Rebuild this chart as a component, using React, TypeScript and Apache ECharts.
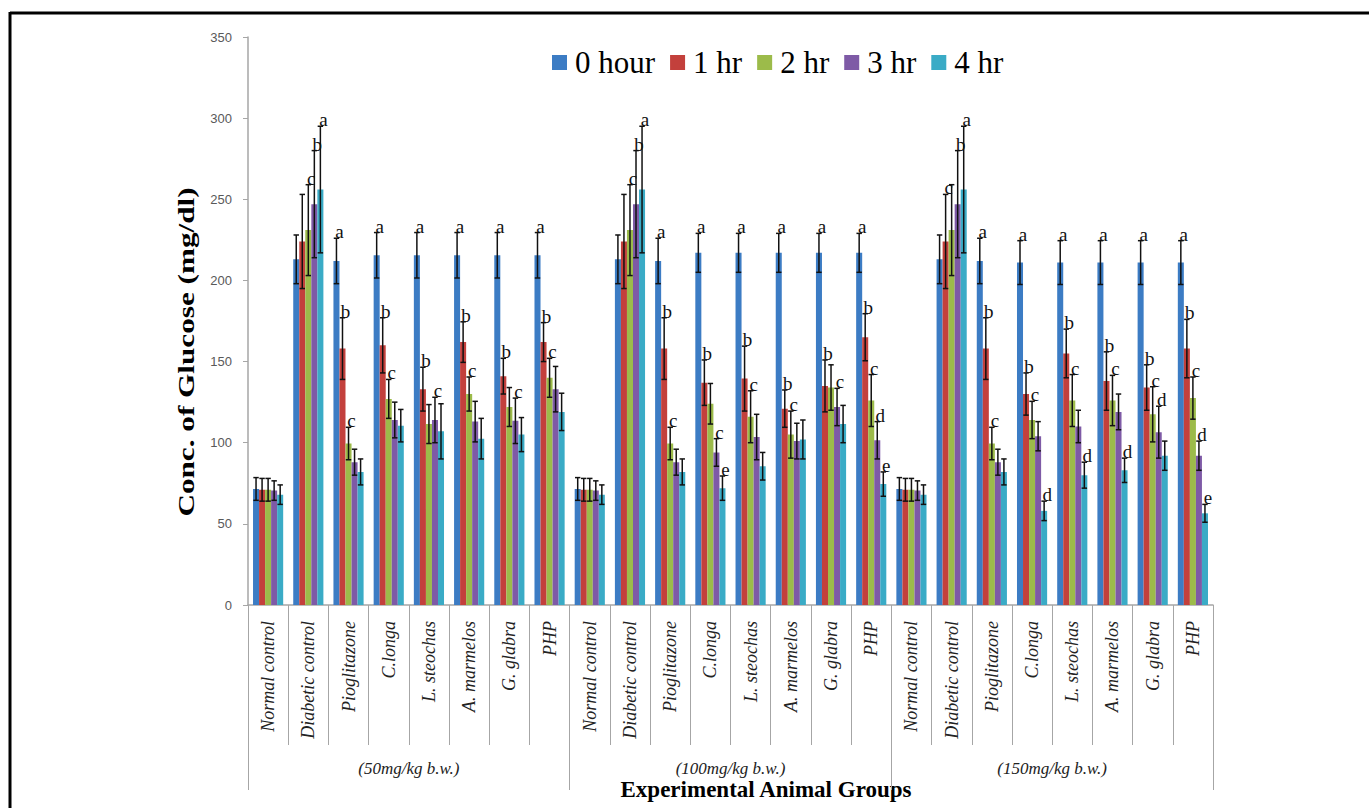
import React, { useEffect, useRef } from 'react';
import * as echarts from 'echarts';

const groupNames = ['Normal control', 'Diabetic control', 'Pioglitazone', 'C.longa', 'L. steochas', 'A. marmelos', 'G. glabra', 'PHP'];
const categories = [...groupNames, ...groupNames, ...groupNames];
const doseLabels = ['(50mg/kg b.w.)', '(100mg/kg b.w.)', '(150mg/kg b.w.)'];
const seriesNames = ['0 hour', '1 hr', '2 hr', '3 hr', '4 hr'];
const colors = ['#3c7cc4', '#c3403c', '#9cbb4a', '#7e5aa6', '#3aabc6'];
const yTicks = [0, 350, 50];

const hour0 = [71.5, 213, 212, 215.5, 215.5, 215.5, 215.5, 215.5, 71.5, 213, 212, 217, 217, 217, 217, 217, 71.5, 213, 212, 211, 211, 211, 211, 211];
const hour1 = [71, 224, 158, 160, 133, 162, 141, 162, 71, 224, 158, 137, 139.5, 121, 135, 165, 71, 224, 158, 130, 155, 138, 134, 158];
const hour2 = [71, 231, 99.5, 127, 111.5, 130, 122, 140, 71, 231, 99.5, 124, 116, 105, 134, 126, 71, 231, 99.5, 114, 126, 126, 117.5, 127.5];
const hour3 = [70.5, 247, 88, 114, 114, 113, 113.5, 133, 70.5, 247, 88, 94, 103.5, 101, 122, 101.5, 70.5, 247, 88, 104, 110, 119, 106.5, 92];
const hour4 = [68, 256, 82, 110.5, 107, 102.5, 105, 119, 68, 256, 82, 72, 85.5, 102, 111.5, 74.5, 68, 256, 82, 58, 80, 83, 92, 56.5];

const err0 = [7, 15, 14, 14, 14, 14, 14, 14, 7, 15, 14, 12, 12, 12, 12, 12, 7, 15, 14, 13.5, 13.5, 13.5, 13.5, 13.5];
const err1 = [7, 29, 19, 17, 13.5, 12.5, 11, 12, 7, 29, 19, 14, 20, 11.5, 16, 14.5, 7, 29, 19, 13, 15, 18, 14, 18];
const err2 = [7, 28, 10, 12, 12, 10.5, 12, 12, 7, 28, 10, 12.5, 16, 14.5, 14, 16, 7, 28, 10, 11.5, 16, 15.5, 17, 13];
const err3 = [6, 33, 8, 11, 14, 12.5, 14, 14, 6, 33, 8, 8.5, 14, 11, 11.5, 11.5, 6, 33, 8, 9, 10, 11, 16, 9];
const err4 = [6, 39, 8, 10, 17, 12.5, 10.5, 11.5, 6, 39, 8, 7.5, 8.5, 12, 11.5, 7.5, 6, 39, 8, 6, 8, 7.5, 9, 5.5];

const letters0 = ['', '', 'a', 'a', 'a', 'a', 'a', 'a', '', '', 'a', 'a', 'a', 'a', 'a', 'a', '', '', 'a', 'a', 'a', 'a', 'a', 'a'];
const letters1 = ['', '', 'b', 'b', 'b', 'b', 'b', 'b', '', '', 'b', 'b', 'b', 'b', 'b', 'b', '', 'c', 'b', 'b', 'b', 'b', 'b', 'b'];
const letters2 = ['', 'c', 'c', 'c', '', 'c', '', 'c', '', 'c', 'c', '', 'c', 'c', '', 'c', '', '', 'c', 'c', 'c', 'c', 'c', 'c'];
const letters3 = ['', 'b', '', '', 'c', '', 'c', '', '', 'b', '', 'c', '', '', 'c', 'd', '', 'b', '', '', '', '', 'd', 'd'];
const letters4 = ['', 'a', '', '', '', '', '', '', '', 'a', '', 'e', '', '', '', 'e', '', 'a', '', 'd', 'd', 'd', '', 'e'];

const values = [hour0, hour1, hour2, hour3, hour4];
const errors = [err0, err1, err2, err3, err4];
const letters = [letters0, letters1, letters2, letters3, letters4];

export default function App() {
  const ref = useRef<HTMLDivElement>(null);
  useEffect(() => {
    if (!ref.current) return;
    const chart = echarts.init(ref.current, null, { renderer: 'svg' });

    const errItems: { cat: number; s: number; v: number; e: number; l: string }[] = [];
    values.forEach((arr, s) => {
      arr.forEach((v, cat) => {
        errItems.push({ cat, s, v, e: errors[s][cat], l: letters[s][cat] });
      });
    });

    const gray = '#a6a6a6';
    const option: any = {
      animation: false,
      backgroundColor: '#ffffff',
      grid: { left: 248, right: 156, top: 37, bottom: 203, containLabel: false },
      legend: {
        data: seriesNames,
        left: 547,
        top: 42,
        icon: 'rect',
        itemWidth: 15,
        itemHeight: 15,
        itemGap: 15,
        textStyle: { fontSize: 31, fontFamily: '"Liberation Serif", serif', color: '#000', padding: [0, 0, 0, 3] },
      },
      xAxis: [
        {
          type: 'category',
          data: categories,
          axisLine: { show: true, lineStyle: { color: gray, width: 1.5 } },
          axisTick: { show: true, interval: 0, length: 140, alignWithLabel: false, lineStyle: { color: gray, width: 1 } },
          axisLabel: {
            interval: 0,
            rotate: 90,
            margin: 16,
            fontStyle: 'italic',
            fontFamily: '"Liberation Serif", serif',
            fontSize: 18,
            color: '#222',
          },
          splitLine: { show: false },
        },
        {
          type: 'category',
          data: doseLabels,
          position: 'bottom',
          axisLine: { show: false },
          axisTick: { show: true, interval: 0, length: 185, alignWithLabel: false, lineStyle: { color: gray, width: 1 } },
          axisLabel: {
            interval: 0,
            margin: 155,
            fontStyle: 'italic',
            fontFamily: '"Liberation Serif", serif',
            fontSize: 17,
            color: '#222',
          },
          splitLine: { show: false },
        },
      ],
      yAxis: {
        type: 'value',
        min: yTicks[0],
        max: yTicks[1],
        interval: yTicks[2],
        axisLine: { show: true, lineStyle: { color: gray, width: 1.5 } },
        axisTick: { show: true, length: 5, lineStyle: { color: gray } },
        axisLabel: { margin: 16, fontSize: 13, fontFamily: '"Liberation Sans", sans-serif', color: '#595959' },
        splitLine: { show: false },
      },
      series: [
        ...seriesNames.map((name, s) => ({
          type: 'bar',
          name,
          data: values[s],
          barGap: '0%',
          barCategoryGap: '25%',
          itemStyle: { color: colors[s] },
          xAxisIndex: 0,
          yAxisIndex: 0,
        })),
        {
          type: 'custom',
          xAxisIndex: 0,
          yAxisIndex: 0,
          z: 5,
          data: errItems.map((it) => [it.cat, it.s, it.v, it.e]),
          encode: { x: 0, y: 2 },
          renderItem: (params: any, api: any) => {
            const it = errItems[params.dataIndex];
            const catW = api.size([1, 0])[0];
            const barW = (catW * 0.75) / 5;
            const cx = api.coord([it.cat, 0])[0] - catW * 0.375 + (it.s + 0.5) * barW;
            const yTop = api.coord([it.cat, it.v + it.e])[1];
            const yBot = api.coord([it.cat, it.v - it.e])[1];
            const cap = barW * 0.45;
            const st = { stroke: '#111', lineWidth: 1.5 };
            const children: any[] = [
              { type: 'line', shape: { x1: cx, y1: yTop, x2: cx, y2: yBot }, style: st },
              { type: 'line', shape: { x1: cx - cap, y1: yTop, x2: cx + cap, y2: yTop }, style: st },
              { type: 'line', shape: { x1: cx - cap, y1: yBot, x2: cx + cap, y2: yBot }, style: st },
            ];
            if (it.l) {
              children.push({
                type: 'text',
                x: cx + 3,
                y: yTop + 3,
                style: {
                  text: it.l,
                  fill: '#111',
                  fontSize: 19,
                  fontFamily: '"Liberation Serif", serif',
                  align: 'center',
                  verticalAlign: 'bottom',
                },
              });
            }
            return { type: 'group', children };
          },
        },
      ],
      graphic: [
        { type: 'line', shape: { x1: 10, y1: 13, x2: 1369, y2: 13 }, style: { stroke: '#000', lineWidth: 3 } },
        { type: 'line', shape: { x1: 10, y1: 12, x2: 10, y2: 808 }, style: { stroke: '#000', lineWidth: 3 } },
        {
          type: 'text',
          x: 186,
          y: 352,
          rotation: Math.PI / 2,
          scaleX: 1.3,
          style: {
            text: 'Conc. of Glucose (mg/dl)',
            fontSize: 24,
            fontWeight: 'bold',
            fontFamily: '"Liberation Serif", serif',
            fill: '#000',
            align: 'center',
            verticalAlign: 'middle',
          },
        },
        {
          type: 'text',
          x: 766,
          y: 789,
          style: {
            text: 'Experimental Animal Groups',
            fontSize: 23,
            fontWeight: 'bold',
            fontFamily: '"Liberation Serif", serif',
            fill: '#000',
            align: 'center',
            verticalAlign: 'middle',
          },
        },
      ],
    };
    chart.setOption(option);
    return () => chart.dispose();
  }, []);
  return <div ref={ref} style={{ position: 'fixed', left: 0, top: 0, width: 1369, height: 808 }} />;
}
